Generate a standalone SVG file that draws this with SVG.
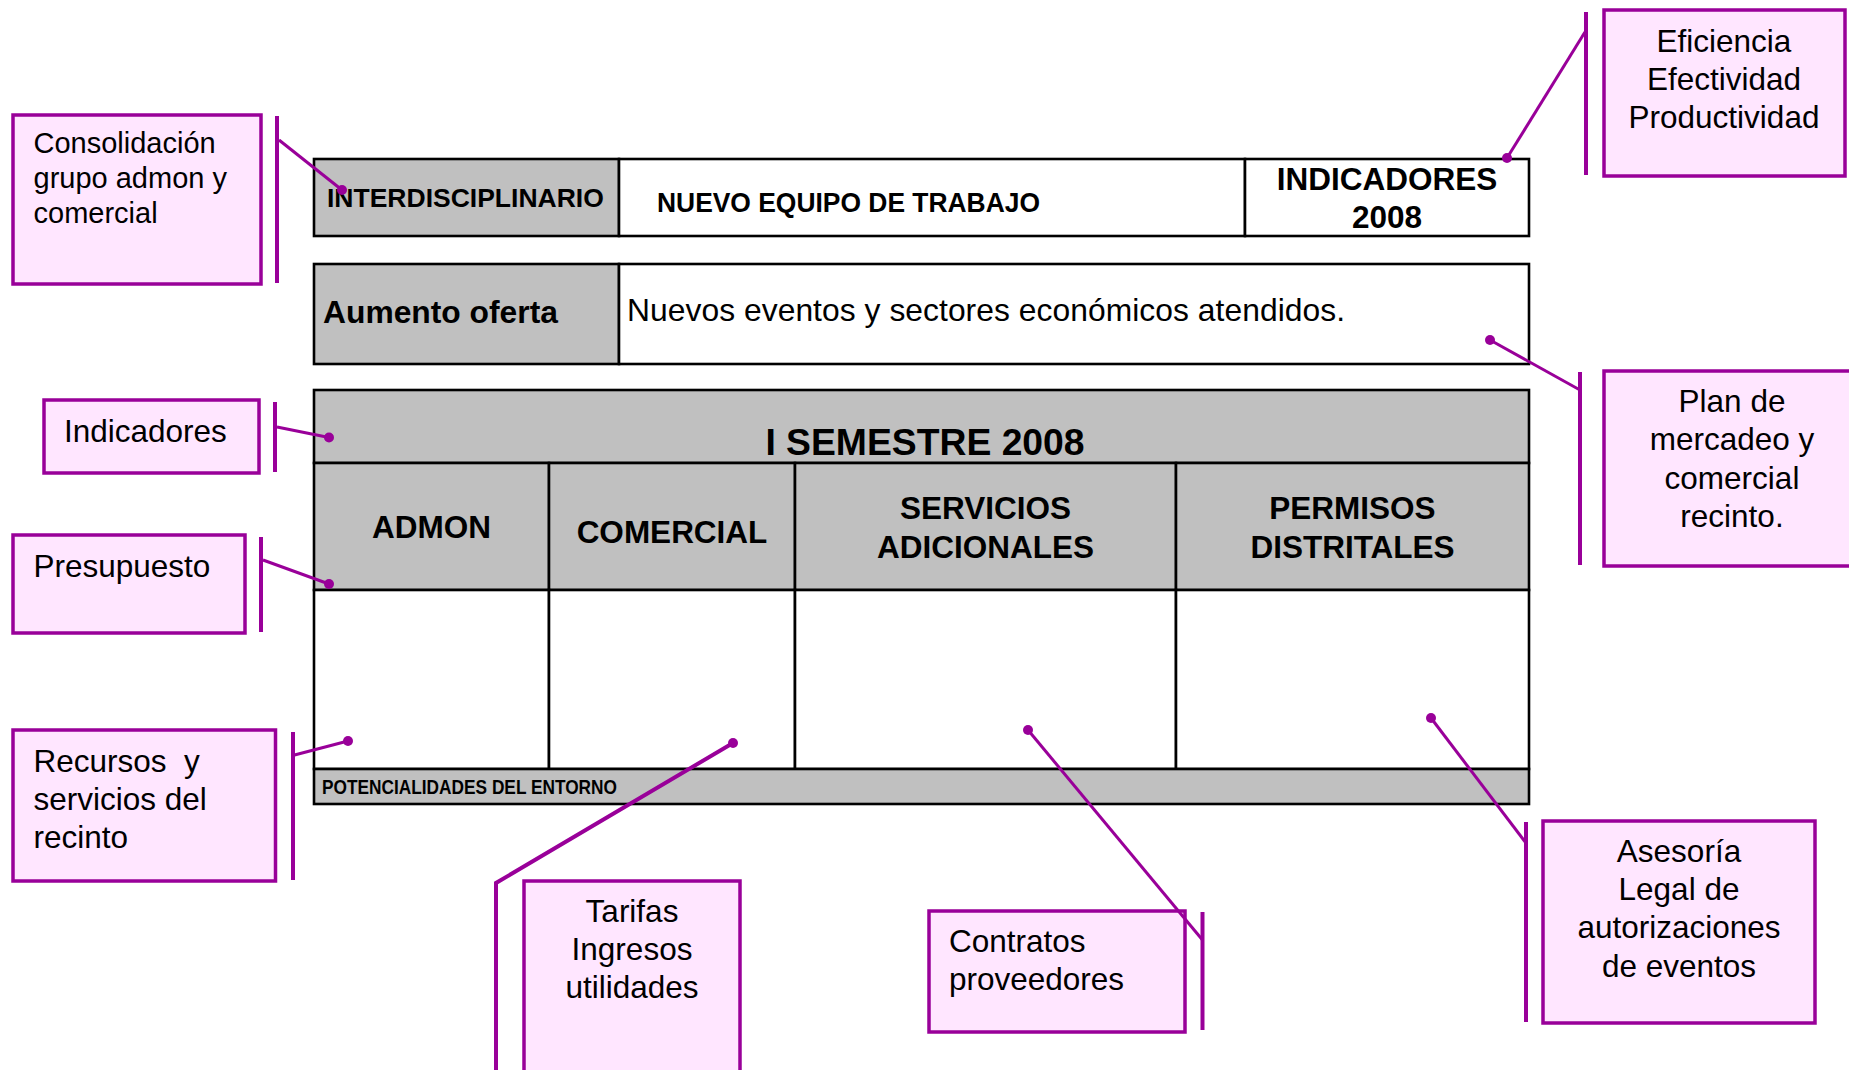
<svg xmlns="http://www.w3.org/2000/svg" width="1849" height="1070" viewBox="0 0 1849 1070">
<style>
.cell{stroke:#000;stroke-width:2.6}
.g{fill:#c0c0c0}
.w{fill:#fff}
.cb{fill:#ffe6ff;stroke:#990099;stroke-width:3.5}
.bar{stroke:#990099;stroke-width:4;fill:none}
.ld{stroke:#990099;stroke-width:3;fill:none}
.dot{fill:#990099}
.t{font-family:"Liberation Sans",Arial,sans-serif;fill:#000}
.b{font-weight:bold}
.s{font-size:31.5px}
.m{text-anchor:middle}
</style>
<rect width="1849" height="1070" fill="#fff"/>
<g id="table-top">
<rect class="cell g" x="314" y="159" width="305" height="77"/>
<rect class="cell w" x="619" y="159" width="626" height="77"/>
<rect class="cell w" x="1245" y="159" width="284" height="77"/>
<text class="t b" x="327" y="207" font-size="26.5">INTERDISCIPLINARIO</text>
<text class="t b" x="657" y="212" font-size="27" textLength="383" lengthAdjust="spacingAndGlyphs">NUEVO EQUIPO DE TRABAJO</text>
<text class="t b s m" x="1387" y="190">INDICADORES</text>
<text class="t b s m" x="1387" y="228">2008</text>
</g>
<g id="table-oferta">
<rect class="cell g" x="314" y="264" width="305" height="100"/>
<rect class="cell w" x="619" y="264" width="910" height="100"/>
<text class="t b" x="323" y="323" font-size="31.8">Aumento oferta</text>
<text class="t" x="627" y="321" font-size="31.8" textLength="718">Nuevos eventos y sectores económicos atendidos.</text>
</g>
<g id="table-semestre">
<rect class="cell g" x="314" y="390" width="1215" height="73"/>
<rect class="cell g" x="314" y="463" width="235" height="127"/>
<rect class="cell g" x="549" y="463" width="246" height="127"/>
<rect class="cell g" x="795" y="463" width="381" height="127"/>
<rect class="cell g" x="1176" y="463" width="353" height="127"/>
<rect class="cell w" x="314" y="590" width="235" height="179"/>
<rect class="cell w" x="549" y="590" width="246" height="179"/>
<rect class="cell w" x="795" y="590" width="381" height="179"/>
<rect class="cell w" x="1176" y="590" width="353" height="179"/>
<rect class="cell g" x="314" y="769" width="1215" height="35"/>
<text class="t b m" x="925" y="455" font-size="37.3">I SEMESTRE 2008</text>
<text class="t b s m" x="431.5" y="538">ADMON</text>
<text class="t b s m" x="672" y="543">COMERCIAL</text>
<text class="t b s m" x="985.5" y="519">SERVICIOS</text>
<text class="t b s m" x="985.5" y="558">ADICIONALES</text>
<text class="t b s m" x="1352.5" y="519">PERMISOS</text>
<text class="t b s m" x="1352.5" y="558">DISTRITALES</text>
<text class="t b" x="322" y="794" font-size="19.5" textLength="295" lengthAdjust="spacingAndGlyphs">POTENCIALIDADES DEL ENTORNO</text>
</g>
<g id="callout-consolidacion">
<rect class="cb" x="13" y="115" width="248" height="169"/>
<text class="t" x="33.5" y="153" font-size="29">Consolidación</text>
<text class="t" x="33.5" y="188" font-size="29">grupo admon y</text>
<text class="t" x="33.5" y="223" font-size="29">comercial</text>
</g>
<g id="callout-eficiencia">
<rect class="cb" x="1604" y="10" width="241" height="166"/>
<text class="t s m" x="1724" y="52">Eficiencia</text>
<text class="t s m" x="1724" y="90">Efectividad</text>
<text class="t s m" x="1724" y="128">Productividad</text>
</g>
<g id="callout-plan">
<rect class="cb" x="1604" y="371" width="256" height="195"/>
<text class="t s m" x="1732" y="412">Plan de</text>
<text class="t s m" x="1732" y="450">mercadeo y</text>
<text class="t s m" x="1732" y="489">comercial</text>
<text class="t s m" x="1732" y="527">recinto.</text>
</g>
<g id="callout-indicadores">
<rect class="cb" x="44" y="400" width="215" height="73"/>
<text class="t s" x="64" y="442">Indicadores</text>
</g>
<g id="callout-presupuesto">
<rect class="cb" x="13" y="535" width="232" height="98"/>
<text class="t s" x="33.5" y="577">Presupuesto</text>
</g>
<g id="callout-recursos">
<rect class="cb" x="13" y="730" width="262.5" height="151"/>
<text class="t s" x="33.5" y="772" xml:space="preserve">Recursos  y</text>
<text class="t s" x="33.5" y="810">servicios del</text>
<text class="t s" x="33.5" y="848">recinto</text>
</g>
<g id="callout-tarifas">
<rect class="cb" x="524" y="881" width="216" height="200"/>
<text class="t s m" x="632" y="922">Tarifas</text>
<text class="t s m" x="632" y="960">Ingresos</text>
<text class="t s m" x="632" y="998">utilidades</text>
</g>
<g id="callout-contratos">
<rect class="cb" x="929" y="911" width="256" height="121"/>
<text class="t s" x="949" y="952">Contratos</text>
<text class="t s" x="949" y="990">proveedores</text>
</g>
<g id="callout-asesoria">
<rect class="cb" x="1543" y="821" width="272" height="202"/>
<text class="t s m" x="1679" y="862">Asesoría</text>
<text class="t s m" x="1679" y="900">Legal de</text>
<text class="t s m" x="1679" y="938">autorizaciones</text>
<text class="t s m" x="1679" y="977">de eventos</text>
</g>
<g id="connectors">
<line class="bar" x1="277" y1="116" x2="277" y2="283"/>
<polyline class="ld" points="279,140 342,190"/>
<circle class="dot" cx="342" cy="190" r="5"/>
<line class="bar" x1="1586" y1="12" x2="1586" y2="175"/>
<polyline class="ld" points="1585,32 1507,158"/>
<circle class="dot" cx="1507" cy="158" r="5"/>
<line class="bar" x1="1580" y1="372" x2="1580" y2="565"/>
<polyline class="ld" points="1580,390 1490,340"/>
<circle class="dot" cx="1490" cy="340" r="5"/>
<line class="bar" x1="275" y1="402" x2="275" y2="472"/>
<polyline class="ld" points="277,427 329,437.5"/>
<circle class="dot" cx="329" cy="437.5" r="5"/>
<line class="bar" x1="261" y1="537" x2="261" y2="632"/>
<polyline class="ld" points="263,560 329,584"/>
<circle class="dot" cx="329" cy="584" r="5"/>
<line class="bar" x1="293" y1="732" x2="293" y2="880"/>
<polyline class="ld" points="294.5,755 348,741"/>
<circle class="dot" cx="348" cy="741" r="5"/>
<polyline class="bar" points="496,1075 496,883 733,743"/>
<circle class="dot" cx="733" cy="743" r="5"/>
<line class="bar" x1="1202.5" y1="912" x2="1202.5" y2="1030"/>
<polyline class="ld" points="1028,730 1202.5,940"/>
<circle class="dot" cx="1028" cy="730" r="5"/>
<line class="bar" x1="1526" y1="822" x2="1526" y2="1022"/>
<polyline class="ld" points="1431,718 1526,843"/>
<circle class="dot" cx="1431" cy="718" r="5"/>
</g>
</svg>
